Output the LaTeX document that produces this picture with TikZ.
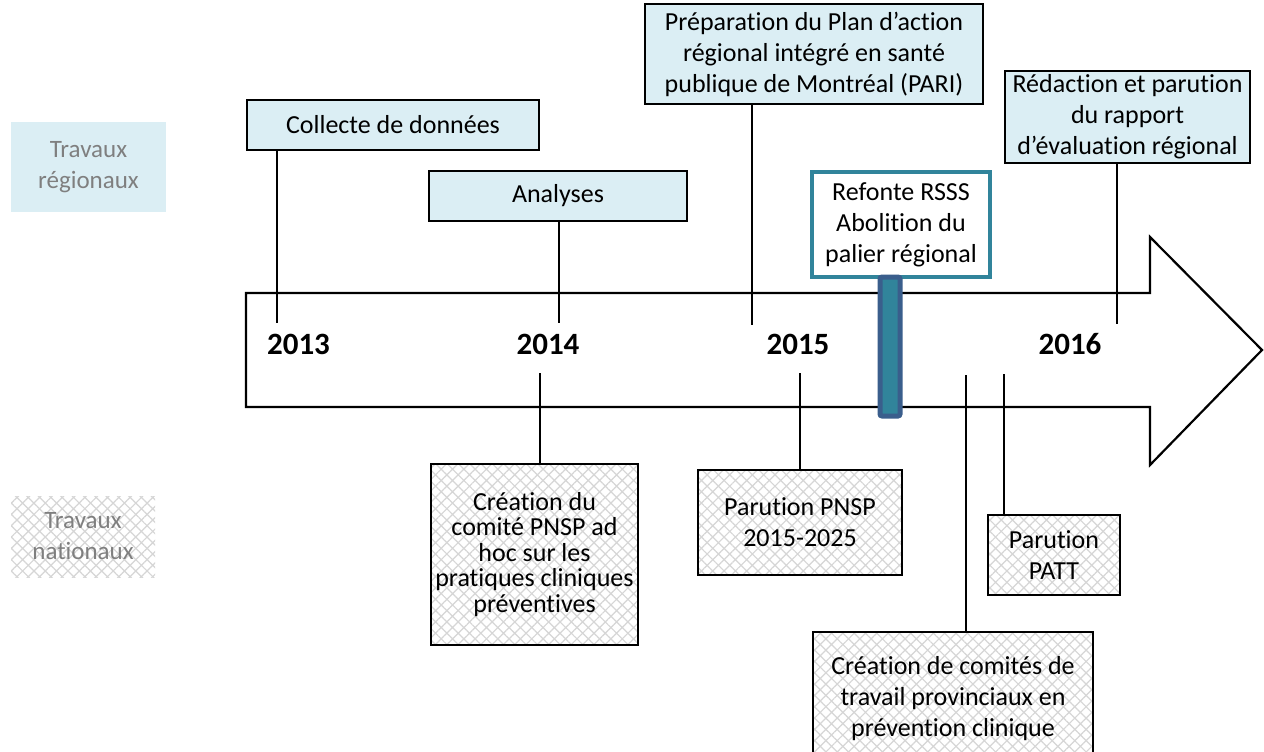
\documentclass[tikz,border=0pt]{standalone}
\usepackage{fontspec}
\setmainfont{Carlito}[Ligatures={NoCommon}]
\usetikzlibrary{patterns.meta}
\definecolor{regfill}{HTML}{DBEEF4}
\definecolor{labgray}{HTML}{7F7F7F}
\definecolor{tealb}{HTML}{31849B}
\definecolor{barb}{HTML}{3A5E8C}
\definecolor{hatchc}{HTML}{D6D6D6}
\tikzset{
  txt/.style={font=\fontsize{26}{31}\selectfont, align=center, inner sep=0pt},
  hatchfill/.style={preaction={fill=white},
     pattern={Hatch[angle=45,distance=8pt,line width=1.2pt]}, pattern color=hatchc},
  regbox/.style={txt, draw=black, line width=1.6pt, fill=regfill},
  natbox/.style={txt, draw=black, line width=1.6pt, hatchfill},
  labreg/.style={txt, text=labgray, fill=regfill, font=\fontsize{25}{31}\selectfont},
  labnat/.style={txt, text=labgray, hatchfill, font=\fontsize{25}{31}\selectfont},
  year/.style={font=\fontsize{31}{36}\selectfont\bfseries, inner sep=0pt},
  conn/.style={draw=black, line width=2pt},
}
\begin{document}
\begin{tikzpicture}[x=1pt,y=-1pt]
\useasboundingbox (0,0) rectangle (1264,752);
% big arrow
\draw[line width=2.2pt, fill=white, line join=miter]
  (246,293) -- (1150,293) -- (1150,237) -- (1262,350) -- (1150,465) -- (1150,407) -- (246,407) -- cycle;
% legend
\node[labreg, minimum width=155pt, minimum height=90pt] (lreg) at (88.5,167) {Travaux\\régionaux};
\node[labnat, minimum width=144pt, minimum height=81pt] (lnat) at (83,536.5) {Travaux\\nationaux};
% years
\node[year] (y13) at (298.5,344) {2013};
\node[year] (y14) at (548,344) {2014};
\node[year] (y15) at (798,344) {2015};
\node[year] (y16) at (1070,344) {2016};
% regional boxes
\node[regbox, minimum width=292pt, minimum height=50pt] (collecte) at (393,125) {Collecte de données};
\node[regbox, minimum width=258pt, minimum height=50pt] (analyses) at (558,196) {Analyses};
\node[regbox, minimum width=338pt, minimum height=100pt] (pari) at (814,54) {Préparation du Plan d’action\\régional intégré en santé\\publique de Montréal (PARI)};
\node[regbox, minimum width=245pt, minimum height=92pt] (redac) at (1127.5,117) {Rédaction et parution\\du rapport\\d’évaluation régional};
% national boxes
\node[natbox, minimum width=207pt, minimum height=181pt, font=\fontsize{26}{25.5}\selectfont] (comite) at (534.5,554.5) {Création du\\comité PNSP ad\\hoc sur les\\pratiques cliniques\\préventives};
\node[natbox, minimum width=204pt, minimum height=105pt] (pnsp) at (800,522.5) {Parution PNSP\\2015-2025};
\node[natbox, minimum width=132pt, minimum height=80pt] (patt) at (1054,555) {Parution\\PATT};
\node[natbox, minimum width=280pt, minimum height=134pt] (comites) at (953,699) {Création de comités de\\travail provinciaux en\\prévention clinique};
% connector ends
\coordinate (e1) at (277,323);
\coordinate (e2) at (559,323);
\coordinate (e3) at (752,325);
\coordinate (e4) at (1117,324);
\coordinate (f1) at (540,373);
\coordinate (f2) at (800,373);
\coordinate (f3) at (966,375);
\coordinate (f4) at (1004,374);
\draw[conn] (collecte.south -| e1) -- (e1);
\draw[conn] (analyses.south -| e2) -- (e2);
\draw[conn] (pari.south -| e3) -- (e3);
\draw[conn] (redac.south -| e4) -- (e4);
\draw[conn] (f1) -- (comite.north -| f1);
\draw[conn] (f2) -- (pnsp.north -| f2);
\draw[conn] (f3) -- (comites.north -| f3);
\draw[conn] (f4) -- (patt.north -| f4);
% refonte box and bar
\node[txt, draw=tealb, line width=4pt, fill=white, minimum width=178pt, minimum height=105pt] (refonte) at (901,224.5) {Refonte RSSS\\Abolition du\\palier régional};
\draw[draw=barb, fill=tealb, line width=5pt, rounded corners=2pt] (880,277) rectangle (900,416);
\end{tikzpicture}
\end{document}
